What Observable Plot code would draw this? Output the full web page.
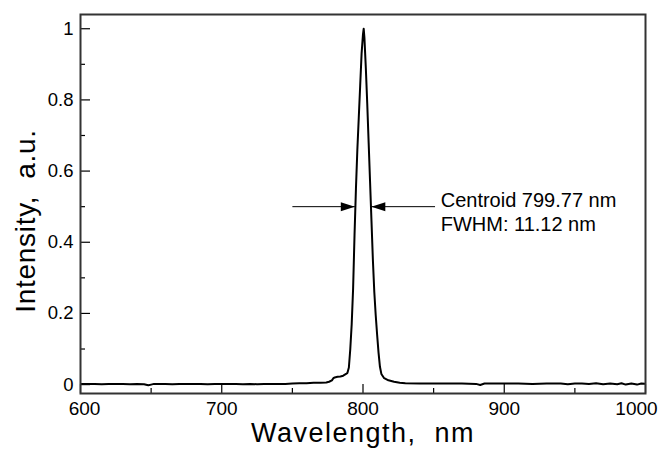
<!DOCTYPE html>
<html>
<head>
<meta charset="utf-8">
<script src="https://cdn.jsdelivr.net/npm/d3@7"></script>
<script src="https://cdn.jsdelivr.net/npm/@observablehq/plot@0.6"></script>
<style>
  html, body { margin: 0; padding: 0; background: #fff; }
  svg text { white-space: pre; }
</style>
</head>
<body>
<div id="chart"></div>
<script>
// ---- data ----
const wavelength = [
  600, 605, 610, 615, 620, 625, 630, 635, 640, 645, 648, 650, 652, 655, 660, 665, 670, 675, 680, 685,
  690, 695, 700, 705, 710, 715, 720, 725, 730, 735, 740, 745, 750, 755, 760, 765, 770, 774, 776, 778,
  779, 780, 782, 784, 786, 788, 789, 790, 791, 792, 793, 794, 795, 796, 797, 798, 799, 800, 800.5, 801,
  802, 803, 804, 805, 806, 807, 808, 809, 810, 811, 812, 813, 815, 818, 822, 826, 830, 840, 850, 860,
  870, 880, 883, 886, 900, 910, 920, 930, 940, 945, 950, 955, 960, 965, 970, 975, 980, 983, 986, 990,
  994, 997, 1000
];
const intensity = [
  0.002, 0.002, 0.002, 0.001, 0.002, 0.002, 0.002, 0.001, 0.002, 0.001, -0.002, 0.000, 0.002, 0.002, 0.002, 0.001, 0.002, 0.002, 0.002, 0.002,
  0.001, 0.002, 0.002, 0.002, 0.002, 0.001, 0.002, 0.001, 0.002, 0.002, 0.002, 0.002, 0.003, 0.004, 0.004, 0.005, 0.005, 0.006, 0.008, 0.012,
  0.018, 0.020, 0.022, 0.023, 0.025, 0.030, 0.033, 0.048, 0.100, 0.170, 0.270, 0.420, 0.550, 0.660, 0.750, 0.840, 0.930, 0.985, 1.000, 0.975,
  0.890, 0.790, 0.680, 0.570, 0.460, 0.350, 0.260, 0.195, 0.140, 0.090, 0.050, 0.030, 0.018, 0.012, 0.008, 0.005, 0.004, 0.003, 0.003, 0.003,
  0.003, 0.002, -0.001, 0.003, 0.003, 0.003, 0.002, 0.003, 0.003, 0.001, 0.003, 0.003, 0.002, 0.004, 0.001, 0.003, 0.001, 0.004, 0.000, 0.003,
  0.000, 0.003, 0.002
];

const xMajorTicks = [600, 700, 800, 900, 1000];
const xMinorTicks = [650, 750, 850, 950];
const xInnerLabels = [700, 800, 900];
const xFirstLabel = [600];
const xLastLabel = [1000];
const yMajorTicks = [0, 0.2, 0.4, 0.6, 0.8, 1];
const yTickLabels = ["0", "0.2", "0.4", "0.6", "0.8", "1"];
const yMinorTicks = [0.1, 0.3, 0.5, 0.7, 0.9];

const xTitle = "Wavelength,  nm";
const yTitle = "Intensity,  a.u.";
const annotationLines = ["Centroid 799.77 nm", "FWHM: 11.12 nm"];

// annotation geometry (data units)
const halfMax = 0.5;
const fwhmLeftEdge = 794.2;
const fwhmRightEdge = 805.9;
const arrowTailLeft = 750;
const arrowTailRight = 851;
const labelX = 855;
const labelY = 0.487;

// ---- build ----
const spectrum = wavelength.map((w, i) => ({w, v: intensity[i]}));
const arrows = [
  {x1: arrowTailLeft, x2: fwhmLeftEdge, y: halfMax, rot: 0},
  {x1: arrowTailRight, x2: fwhmRightEdge, y: halfMax, rot: 180}
];
const headSymbol = {
  draw(context) {
    context.moveTo(0, 0);
    context.lineTo(-14, -4.5);
    context.lineTo(-14, 4.5);
    context.closePath();
  }
};

const chart = Plot.plot({
  width: 658,
  height: 449,
  marginLeft: 80,
  marginRight: 13,
  marginTop: 14,
  marginBottom: 56,
  style: {fontFamily: "'Liberation Sans', Arial, sans-serif", fontSize: "18px", color: "#000", background: "#fff", overflow: "visible"},
  x: {domain: [600, 1000]},
  y: {domain: [-0.025, 1.04]},
  marks: [
    Plot.axisX(xMinorTicks, {tickSize: -5, tickFormat: () => "", label: null, strokeWidth: 1.2}),
    Plot.axisX(xMajorTicks, {tickSize: -9, tickFormat: () => "", label: null, strokeWidth: 1.2}),
    Plot.axisX(xInnerLabels, {tickSize: 0, tickPadding: 8, fontSize: 19, label: null, tickFormat: d => String(d)}),
    Plot.axisX(xFirstLabel, {tickSize: 0, tickPadding: 8, fontSize: 19, label: null, dx: 4, tickFormat: d => String(d)}),
    Plot.axisX(xLastLabel, {tickSize: 0, tickPadding: 8, fontSize: 19, label: null, dx: -9, tickFormat: d => String(d)}),
    Plot.axisY(yMinorTicks, {tickSize: -5, tickFormat: () => "", label: null, strokeWidth: 1.2}),
    Plot.axisY(yMajorTicks, {tickSize: -10, tickPadding: 17, fontSize: 18.5, label: null, strokeWidth: 1.2,
      tickFormat: d => yTickLabels[yMajorTicks.indexOf(d)]}),
    Plot.line(spectrum, {x: "w", y: "v", stroke: "#000", strokeWidth: 2, clip: true}),
    Plot.link(arrows, {x1: "x1", x2: "x2", y1: "y", y2: "y", stroke: "#000", strokeWidth: 1}),
    Plot.dot(arrows, {x: "x2", y: "y", rotate: "rot", symbol: headSymbol, fill: "#000", stroke: "none"}),
    Plot.text([annotationLines.join("\n")], {x: () => labelX, y: () => labelY, textAnchor: "start", lineAnchor: "middle", fontSize: 20, lineHeight: 1.2, fill: "#000"}),
    Plot.text([xTitle], {frameAnchor: "bottom", dy: 40, textAnchor: "middle", lineAnchor: "middle", fontSize: 27, fill: "#000"}),
    Plot.text([yTitle], {frameAnchor: "left", rotate: -90, dx: -54, dy: 17, textAnchor: "middle", lineAnchor: "middle", fontSize: 28, fill: "#000"}),
    Plot.frame({stroke: "#333", strokeWidth: 2})
  ]
});

d3.select(chart).selectAll("text")
  .filter(function() { return this.textContent === xTitle; })
  .attr("letter-spacing", 1.5);
d3.select(chart).selectAll("text")
  .filter(function() { return this.textContent === yTitle; })
  .attr("letter-spacing", 0.7);

document.getElementById("chart").appendChild(chart);
</script>
</body>
</html>
